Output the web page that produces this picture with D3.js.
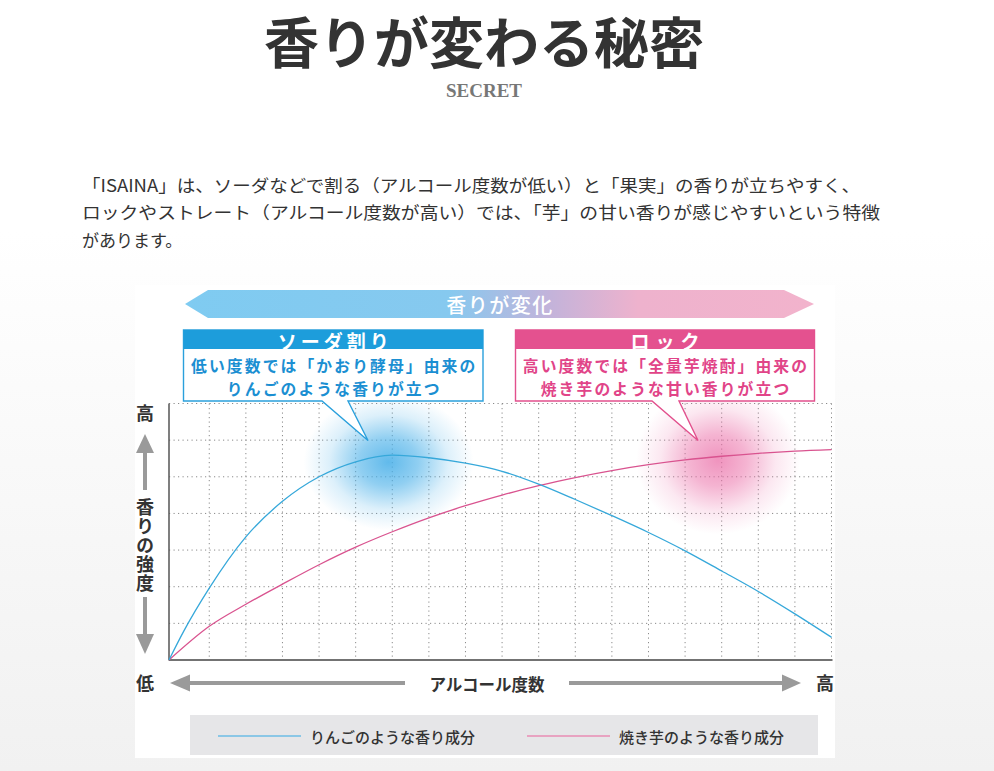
<!DOCTYPE html>
<html><head><meta charset="utf-8">
<script src="https://cdn.jsdelivr.net/npm/d3@7"></script>
<style>
html,body{margin:0;padding:0;background:#fff;}
svg{display:block;}
</style>
</head><body>
<script>
// ---------- data ----------
const titleText = "香りが変わる秘密";
const subtitleText = "SECRET";
const paragraphLines = [
  "「ISAINA」は、ソーダなどで割る（アルコール度数が低い）と「果実」の香りが立ちやすく、",
  "ロックやストレート（アルコール度数が高い）では、「芋」の甘い香りが感じやすいという特徴",
  "があります。"
];
const bannerText = "香りが変化";
const sodaTitle = "ソーダ割り";
const sodaLines = ["低い度数では「かおり酵母」由来の", "りんごのような香りが立つ"];
const rockTitle = "ロック";
const rockLines = ["高い度数では「全量芋焼酎」由来の", "焼き芋のような甘い香りが立つ"];
const yAxisTitle = "香りの強度";
const xAxisTitle = "アルコール度数";
const lowLabel = "低", highLabel = "高";
const seriesNames = ["りんごのような香り成分", "焼き芋のような香り成分"];

// alcohol strength (grid units) and aroma intensity (grid units)
const appleX = [-0.1, 0.3, 1, 2, 3, 4, 5, 6, 7, 8, 9, 10, 11, 12, 13, 14, 15, 16, 17, 18];
const appleY = [0, 0.78, 1.96, 3.36, 4.33, 5.0, 5.41, 5.59, 5.52, 5.37, 5.15, 4.80, 4.38, 3.94, 3.48, 2.98, 2.43, 1.87, 1.26, 0.62];
const potatoX = [-0.1, 1, 2, 3, 4, 5, 6, 7, 8, 9, 10, 11, 12, 13, 14, 15, 16, 17, 18];
const potatoY = [0, 0.92, 1.52, 2.07, 2.6, 3.08, 3.5, 3.88, 4.21, 4.5, 4.76, 4.98, 5.17, 5.33, 5.46, 5.56, 5.64, 5.70, 5.74];
const xGrid = [1,2,3,4,5,6,7,8,9,10,11,12,13,14,15,16,17,18];
const yGrid = [1,2,3,4,5,6,7];
// highlighted aroma peaks (x, y in grid units)
const appleGlow = [5.9, 5.4];
const potatoGlow = [14.9, 5.45];

// ---------- setup ----------
const W = 994, H = 771;
const JP = "'Noto Sans CJK JP', sans-serif";
const svg = d3.select("body").append("svg").attr("width", W).attr("height", H);
const defs = svg.append("defs");

const bgGrad = defs.append("linearGradient").attr("id","bg").attr("x1",0).attr("y1",0).attr("x2",0).attr("y2",1);
bgGrad.append("stop").attr("offset","0%").attr("stop-color","#ffffff");
bgGrad.append("stop").attr("offset","30%").attr("stop-color","#ffffff");
bgGrad.append("stop").attr("offset","100%").attr("stop-color","#f1f1f1");
svg.append("rect").attr("width",W).attr("height",H).attr("fill","url(#bg)");

// title
svg.append("text").attr("x",484).attr("y",39).attr("text-anchor","middle").attr("dominant-baseline","central")
  .attr("font-family",JP).attr("font-weight",700).attr("font-size",55).attr("fill","#333").text(titleText);
svg.append("text").attr("x",484).attr("y",90).attr("text-anchor","middle").attr("dominant-baseline","central")
  .attr("font-family","'Liberation Serif', serif").attr("font-weight",700).attr("font-size",19).attr("fill","#777")
  .text(subtitleText);

// paragraph
const paraW = [778, 798, null];
paragraphLines.forEach((t,i)=>{
  const el = svg.append("text").attr("x",82).attr("y",184 + i*27.5).attr("dominant-baseline","central")
    .attr("font-family",JP).attr("font-size",17).attr("fill","#333").text(t);
  if (paraW[i]) el.attr("textLength",paraW[i]).attr("lengthAdjust","spacingAndGlyphs");
});

// panel
svg.append("rect").attr("x",135).attr("y",285).attr("width",700).attr("height",473).attr("fill","#fff");

// ---------- scales ----------
const x = d3.scaleLinear().domain([-0.1, 18]).range([169, 831.5]);
const y = d3.scaleLinear().domain([0, 7]).range([660, 403.5]);

// grid
const g = svg.append("g");
g.selectAll("line.vg").data(xGrid).join("line").attr("class","vg")
  .attr("x1",d=>x(d)).attr("x2",d=>x(d)).attr("y1",y(7)).attr("y2",y(0))
  .attr("stroke","#8a8a8a").attr("stroke-width",1).attr("stroke-dasharray","1.2,3.3");
g.selectAll("line.hg").data(yGrid).join("line").attr("class","hg")
  .attr("x1",x(-0.1)).attr("x2",x(18)).attr("y1",d=>y(d)).attr("y2",d=>y(d))
  .attr("stroke","#8a8a8a").attr("stroke-width",1).attr("stroke-dasharray","1.2,3.3");

// glows
function glow(id, color, c, rx, ry, op){
  const rg = defs.append("radialGradient").attr("id",id);
  rg.append("stop").attr("offset","0%").attr("stop-color",color).attr("stop-opacity",op);
  rg.append("stop").attr("offset","35%").attr("stop-color",color).attr("stop-opacity",op*0.7);
  rg.append("stop").attr("offset","70%").attr("stop-color",color).attr("stop-opacity",op*0.22);
  rg.append("stop").attr("offset","100%").attr("stop-color",color).attr("stop-opacity",0);
  svg.append("ellipse").attr("cx",x(c[0])).attr("cy",y(c[1])).attr("rx",rx).attr("ry",ry).attr("fill",`url(#${id})`);
}
glow("gb","#45aee8",appleGlow,85,68,0.85);
glow("gp","#ea6aa5",potatoGlow,82,74,0.72);

// axes
svg.append("line").attr("x1",x(-0.1)).attr("x2",x(-0.1)).attr("y1",y(7)).attr("y2",y(0)+0.5)
  .attr("stroke","#555").attr("stroke-width",1.5);
svg.append("line").attr("x1",x(-0.1)).attr("x2",x(18)+1).attr("y1",y(0)).attr("y2",y(0))
  .attr("stroke","#444").attr("stroke-width",1.5);

// curves
const line = d3.line().x(d=>x(d[0])).y(d=>y(d[1])).curve(d3.curveMonotoneX);
svg.append("path").attr("d",line(d3.zip(potatoX,potatoY))).attr("fill","none").attr("stroke","#d9538f").attr("stroke-width",1.3);
svg.append("path").attr("d",line(d3.zip(appleX,appleY))).attr("fill","none").attr("stroke","#36a8da").attr("stroke-width",1.3);

// ---------- banner ----------
const bGrad = defs.append("linearGradient").attr("id","ban").attr("x1",0).attr("x2",1).attr("y1",0).attr("y2",0);
[["0%","#7fcbf1"],["42%","#86c9ef"],["58%","#c3b3da"],["72%","#eeb2cd"],["100%","#f2b3cc"]]
  .forEach(s=>bGrad.append("stop").attr("offset",s[0]).attr("stop-color",s[1]));
svg.append("path").attr("d","M185,304 L208,290 L784,290 L814,304 L784,318 L208,318 Z").attr("fill","url(#ban)");
svg.append("text").attr("x",500).attr("y",304).attr("text-anchor","middle").attr("dominant-baseline","central")
  .attr("font-family",JP).attr("font-weight",500).attr("font-size",20).attr("letter-spacing",1.5).attr("fill","#fff").text(bannerText);

// ---------- callouts ----------
function callout(x0, x1, t1, t2, tip, stroke, head, textColor, title, lines, ls){
  svg.append("path")
    .attr("d",`M${x0},330 H${x1} V401 H${t2} L${tip[0]},${tip[1]} L${t1},401 H${x0} Z`)
    .attr("fill","#fff").attr("stroke",stroke).attr("stroke-width",1.4);
  svg.append("rect").attr("x",x0).attr("y",330).attr("width",x1-x0).attr("height",19).attr("fill",head);
  const cx = (x0+x1)/2;
  svg.append("text").attr("x",cx + ls/2).attr("y",340).attr("text-anchor","middle").attr("dominant-baseline","central")
    .attr("font-family",JP).attr("font-weight",700).attr("font-size",19).attr("letter-spacing",ls).attr("fill","#fff").text(title);
  lines.forEach((t,i)=>{
    svg.append("text").attr("x",cx + 1).attr("y",365.5 + i*23).attr("text-anchor","middle").attr("dominant-baseline","central")
      .attr("font-family",JP).attr("font-weight",700).attr("font-size",15.8).attr("letter-spacing",2.1)
      .attr("fill",textColor).text(t);
  });
}
callout(183.5, 483, 322, 348, [368, 440.5], "#2aa0dc", "#1d9ddb", "#1b8fd2", sodaTitle, sodaLines, 4);
callout(515.5, 814.5, 652, 679, [698, 440.5], "#e2508d", "#e4518f", "#e14488", rockTitle, rockLines, 6);

// ---------- axis labels & arrows ----------
const gray = "#9a9a9a";
function lbl(tx, ty, t, size, weight){
  return svg.append("text").attr("x",tx).attr("y",ty).attr("text-anchor","middle").attr("dominant-baseline","central")
    .attr("font-family",JP).attr("font-weight",weight||700).attr("font-size",size).attr("fill","#333").text(t);
}
lbl(145, 412, highLabel, 18);
lbl(145, 682, lowLabel, 18);
lbl(825, 682, highLabel, 18);
svg.append("text").attr("x",145).attr("y",546).attr("text-anchor","middle")
  .attr("writing-mode","vertical-rl").attr("letter-spacing",1)
  .attr("font-family",JP).attr("font-weight",700).attr("font-size",18).attr("fill","#333").text(yAxisTitle);
// vertical arrows
svg.append("path").attr("d","M136,453 L145,434 L154,453 Z").attr("fill",gray);
svg.append("rect").attr("x",143).attr("y",452).attr("width",4).attr("height",38).attr("fill",gray);
svg.append("rect").attr("x",143).attr("y",597).attr("width",4).attr("height",38).attr("fill",gray);
svg.append("path").attr("d","M136,634 L145,654 L154,634 Z").attr("fill",gray);
// horizontal arrows
svg.append("path").attr("d","M170,683 L190,674.5 L190,691.5 Z").attr("fill",gray);
svg.append("rect").attr("x",189).attr("y",681).attr("width",216).attr("height",4).attr("fill",gray);
svg.append("rect").attr("x",569).attr("y",681).attr("width",214).attr("height",4).attr("fill",gray);
svg.append("path").attr("d","M801,683 L782,674.5 L782,691.5 Z").attr("fill",gray);
lbl(487, 684, xAxisTitle, 16.5, 700);

// ---------- legend ----------
svg.append("rect").attr("x",190).attr("y",715).attr("width",628).attr("height",40).attr("fill","#e6e6e8");
const legCol = ["#6cbde6","#e98db5"];
const legX = [218, 527];
seriesNames.forEach((n,i)=>{
  svg.append("line").attr("x1",legX[i]).attr("x2",legX[i]+83).attr("y1",736).attr("y2",736)
    .attr("stroke",legCol[i]).attr("stroke-width",1.3);
  svg.append("text").attr("x",legX[i]+92).attr("y",736).attr("dominant-baseline","central")
    .attr("font-family",JP).attr("font-weight",500).attr("font-size",15).attr("fill","#333").text(n);
});
</script>
</body></html>
